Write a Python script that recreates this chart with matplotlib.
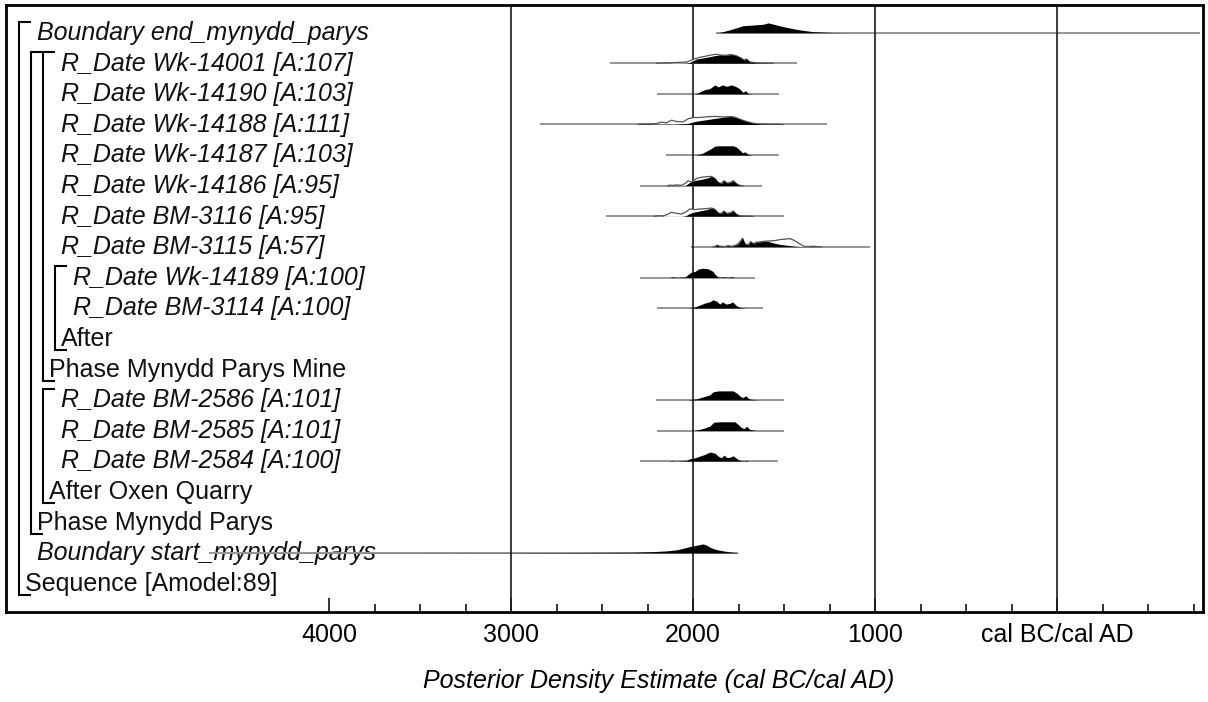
import matplotlib
matplotlib.use("Agg")
import matplotlib.pyplot as plt
import matplotlib.transforms as mtransforms
import numpy as np

plt.rcParams['font.family'] = ['Liberation Sans', 'DejaVu Sans']

# row labels (top to bottom) and nesting depth in the OxCal model
labels = [
    "Boundary end_mynydd_parys",
    "R_Date Wk-14001 [A:107]",
    "R_Date Wk-14190 [A:103]",
    "R_Date Wk-14188 [A:111]",
    "R_Date Wk-14187 [A:103]",
    "R_Date Wk-14186 [A:95]",
    "R_Date BM-3116 [A:95]",
    "R_Date BM-3115 [A:57]",
    "R_Date Wk-14189 [A:100]",
    "R_Date BM-3114 [A:100]",
    "After",
    "Phase Mynydd Parys Mine",
    "R_Date BM-2586 [A:101]",
    "R_Date BM-2585 [A:101]",
    "R_Date BM-2584 [A:100]",
    "After Oxen Quarry",
    "Phase Mynydd Parys",
    "Boundary start_mynydd_parys",
    "Sequence [Amodel:89]",
]
depth = [1, 3, 3, 3, 3, 3, 3, 3, 4, 4, 3, 2, 3, 3, 3, 2, 1, 1, 0]
# groups: (first child row, own label row, depth)
groups = [(0, 18, 0), (1, 16, 1), (1, 11, 2), (8, 10, 3), (12, 15, 2)]

# ranges of the grey lines, years BC (negative = AD)
ranges = {
    0: (1875, -786), 1: (2458, 1431), 2: (2197, 1527), 3: (2843, 1266),
    4: (2146, 1527), 5: (2293, 1620), 6: (2480, 1501), 7: (2009, 1025),
    8: (2293, 1660), 9: (2197, 1618), 12: (2201, 1501), 13: (2197, 1501),
    14: (2289, 1532), 17: (4657, 1752),
}

# posterior distributions: years BC and relative density
post_years = {
    0: [1875, 1853, 1807, 1761, 1725, 1670, 1615, 1587, 1541, 1486, 1413, 1340, 1230, 1120],
    1: [2190, 2140, 2100, 2036, 2018, 1981, 1926, 1880, 1853, 1825, 1789, 1761, 1734, 1721,
        1706, 1688, 1651, 1615, 1560],
    2: [1990, 1981, 1963, 1935, 1908, 1880, 1862, 1838, 1816, 1789, 1761, 1743, 1725, 1712,
        1697, 1670],
    3: [2300, 2293, 2200, 2100, 2036, 2018, 2000, 1981, 1963, 1945, 1926, 1908, 1890, 1871,
        1853, 1834, 1810, 1789, 1761, 1734, 1706, 1670, 1633, 1560, 1505],
    4: [1990, 1981, 1954, 1926, 1899, 1880, 1853, 1816, 1780, 1761, 1743, 1728, 1715, 1697, 1670],
    5: [2140, 2128, 2110, 2091, 2064, 2045, 2036, 2018, 1990, 1954, 1917, 1899, 1880, 1862,
        1844, 1831, 1813, 1794, 1780, 1761, 1747, 1725],
    6: [2210, 2201, 2190, 2064, 2045, 2036, 2027, 2000, 1963, 1926, 1899, 1880, 1862, 1844,
        1831, 1816, 1794, 1780, 1761, 1743, 1706, 1670],
    7: [1890, 1880, 1868, 1853, 1825, 1807, 1789, 1770, 1752, 1728, 1715, 1697, 1684, 1670,
        1651, 1633, 1605, 1587, 1550, 1514, 1486, 1450, 1413, 1376, 1340, 1312, 1294],
    8: [2130, 2119, 2110, 2100, 2091, 2045, 2027, 2009, 1990, 1972, 1945, 1917, 1890, 1880,
        1862, 1845, 1834, 1816, 1800, 1789, 1770],
    9: [2030, 2018, 2000, 1963, 1935, 1908, 1890, 1871, 1853, 1838, 1820, 1798, 1783, 1765,
        1747, 1725, 1706],
    12: [2030, 2018, 1981, 1945, 1908, 1890, 1862, 1816, 1780, 1761, 1743, 1728, 1710, 1691,
         1660, 1633],
    13: [1995, 1981, 1945, 1908, 1886, 1853, 1816, 1770, 1752, 1734, 1719, 1706, 1688, 1651],
    14: [2130, 2119, 2105, 2091, 2036, 2018, 1990, 1963, 1935, 1908, 1880, 1862, 1844, 1831,
         1813, 1794, 1780, 1761, 1743, 1720, 1706, 1695],
    17: [4600, 3500, 3000, 2700, 2513, 2330, 2219, 2146, 2091, 2045, 2018, 1990, 1963, 1945,
         1926, 1899, 1871, 1834, 1798, 1761, 1752],
}
post_dens = {
    0: [0, 0.03, 0.24, 0.49, 0.70, 0.77, 0.84, 0.98, 0.77, 0.53, 0.28, 0.1, 0.02, 0],
    1: [0, 0.03, 0.02, 0.04, 0.1, 0.43, 0.6, 0.77, 0.83, 0.8, 0.87, 0.75, 0.5, 0.33,
        0.43, 0.13, 0.05, 0.02, 0],
    2: [0, 0.05, 0.2, 0.43, 0.53, 0.9, 0.7, 0.9, 0.75, 0.9, 0.7, 0.5, 0.15, 0.33, 0.05, 0],
    3: [0, 0.03, 0.05, 0.05, 0.1, 0.15, 0.25, 0.33, 0.38, 0.43, 0.48, 0.53, 0.58, 0.63,
        0.68, 0.73, 0.77, 0.8, 0.67, 0.47, 0.3, 0.13, 0.05, 0.02, 0],
    4: [0, 0.03, 0.13, 0.4, 0.67, 0.9, 0.93, 0.93, 0.93, 0.8, 0.5, 0.23, 0.33, 0.07, 0],
    5: [0, 0.03, 0.02, 0.03, 0.0, 0.03, 0.1, 0.33, 0.53, 0.63, 0.8, 0.93, 0.73, 0.33,
        0.23, 0.5, 0.27, 0.33, 0.5, 0.2, 0.05, 0],
    6: [0, 0.03, 0, 0, 0.05, 0.1, 0.2, 0.4, 0.53, 0.67, 0.83, 0.7, 0.33, 0.3,
        0.53, 0.3, 0.37, 0.53, 0.2, 0.05, 0.02, 0],
    7: [0, 0.05, 0.17, 0.07, 0.03, 0.13, 0.05, 0.15, 0.3, 0.87, 0.3, 0.2, 0.53, 0.33,
        0.47, 0.5, 0.57, 0.55, 0.35, 0.23, 0.17, 0.1, 0.05, 0.02, 0.05, 0.02, 0],
    8: [0, 0.05, 0.07, 0.03, 0.02, 0.05, 0.3, 0.53, 0.6, 0.83, 0.93, 0.87, 0.6, 0.33,
        0.05, 0.03, 0.07, 0.03, 0.03, 0.08, 0],
    9: [0, 0.02, 0.05, 0.3, 0.5, 0.63, 0.83, 0.7, 0.4, 0.63, 0.4, 0.47, 0.63, 0.3,
        0.1, 0.03, 0],
    12: [0, 0.03, 0.1, 0.3, 0.5, 0.8, 0.9, 0.9, 0.9, 0.7, 0.4, 0.23, 0.4, 0.1, 0.03, 0],
    13: [0, 0.05, 0.2, 0.43, 0.83, 0.87, 0.87, 0.87, 0.6, 0.3, 0.2, 0.43, 0.1, 0],
    14: [0, 0.05, 0.02, 0.01, 0.07, 0.23, 0.33, 0.5, 0.67, 0.9, 0.8, 0.5, 0.33, 0.6,
         0.35, 0.4, 0.53, 0.27, 0.07, 0.02, 0.07, 0],
    17: [0, 0.01, 0.02, 0.04, 0.05, 0.07, 0.13, 0.2, 0.3, 0.5, 0.63, 0.73, 0.83, 0.9,
         0.77, 0.5, 0.33, 0.2, 0.1, 0.03, 0],
}

# unmodelled likelihoods (only where they show above the posterior)
like_years = {
    1: [2200, 2150, 2110, 2064, 2036, 2018, 2000, 1963, 1926, 1890, 1871, 1853, 1825, 1789,
        1761, 1734, 1721, 1706, 1688, 1651, 1615, 1560],
    3: [2300, 2293, 2230, 2201, 2174, 2146, 2119, 2091, 2054, 2027, 2000, 1963, 1926, 1890,
        1862, 1834, 1810, 1789, 1761, 1734, 1706, 1670, 1633, 1560, 1505],
    5: [2140, 2128, 2110, 2091, 2064, 2045, 2027, 2009, 1981, 1945, 1908, 1899, 1880, 1862,
        1844, 1831, 1813, 1794, 1780, 1761, 1747, 1725],
    6: [2210, 2201, 2164, 2137, 2119, 2091, 2064, 2036, 2018, 1990, 1963, 1926, 1899, 1880,
        1862, 1844, 1831, 1816, 1794, 1780, 1761, 1743, 1706, 1670],
    7: [1890, 1880, 1868, 1853, 1825, 1807, 1789, 1770, 1752, 1728, 1715, 1697, 1684, 1670,
        1651, 1633, 1605, 1578, 1550, 1523, 1495, 1468, 1450, 1422, 1395, 1376, 1340, 1312, 1294],
}
like_dens = {
    1: [0, 0.05, 0.07, 0.1, 0.13, 0.25, 0.4, 0.6, 0.73, 0.87, 0.9, 0.83, 0.8, 0.87,
        0.75, 0.5, 0.33, 0.43, 0.13, 0.05, 0.02, 0],
    3: [0, 0.03, 0.05, 0.1, 0.23, 0.17, 0.43, 0.3, 0.27, 0.57, 0.7, 0.7, 0.77, 0.8,
        0.8, 0.75, 0.77, 0.8, 0.67, 0.47, 0.3, 0.13, 0.05, 0.02, 0],
    5: [0, 0.05, 0.03, 0.08, 0.03, 0.2, 0.5, 0.33, 0.73, 0.87, 0.93, 0.93, 0.73, 0.33,
        0.23, 0.5, 0.27, 0.33, 0.5, 0.2, 0.05, 0],
    6: [0, 0.05, 0.03, 0.23, 0.4, 0.3, 0.23, 0.47, 0.73, 0.67, 0.73, 0.77, 0.83, 0.7,
        0.33, 0.3, 0.53, 0.3, 0.37, 0.53, 0.2, 0.05, 0.02, 0],
    7: [0, 0.05, 0.17, 0.07, 0.03, 0.13, 0.05, 0.15, 0.3, 0.87, 0.3, 0.2, 0.53, 0.33,
        0.47, 0.5, 0.57, 0.6, 0.63, 0.73, 0.77, 0.83, 0.7, 0.4, 0.1, 0.03, 0.07, 0.03, 0],
}

major_ticks = [4000, 3000, 2000, 1000, 0]
major_labels = ["4000", "3000", "2000", "1000", "cal BC/cal AD"]
grid_years = [3000, 2000, 1000, 0]

W, H = 1208, 702
fig = plt.figure(figsize=(W / 100, H / 100), dpi=100)
ax = fig.add_axes([6 / W, 1 - 612 / H, 1197 / W, 607 / H])

row_px = 30.6
scale = 10 / row_px  # density 1.0 -> 10 px
fs = 18

for r, (a, b) in ranges.items():
    ax.plot([-a, -b], [r, r], color='#959595', lw=1.4, zorder=2, solid_capstyle='butt')

for r in like_years:
    x = -np.array(like_years[r])
    y = r - np.array(like_dens[r]) * scale
    ax.fill_between(x, r, y, color='white', lw=0, zorder=3)
    ax.plot(x, y, color='#555555', lw=0.9, zorder=3.2)

for r in post_years:
    x = -np.array(post_years[r])
    y = r - np.array(post_dens[r]) * scale
    ax.fill_between(x, r, y, color='black', lw=0, zorder=4)

for g in grid_years:
    ax.axvline(-g, color='#1a1a1a', lw=1.2, zorder=2.5)

ax.set_xlim(-5775, 802)
ax.set_ylim((612 - 32.7) / row_px, -(32.7 - 5) / row_px)

# labels and brackets (left margin, pixel based)
blend = mtransforms.blended_transform_factory(ax.transAxes, ax.transData)
def fx(px):
    return (px - 6) / 1197

for i, lab in enumerate(labels):
    ital = lab.startswith("R_Date") or lab.startswith("Boundary")
    ax.text(fx(25 + 12 * depth[i]), i + 0.24, lab, transform=blend, fontsize=fs,
            style='italic' if ital else 'normal', va='baseline', ha='left',
            color='#111111', zorder=1)

for first, last, d in groups:
    bx = 19 + 12 * d
    top = first - 0.36
    bot = last + 0.38
    ax.plot([fx(bx + 11), fx(bx), fx(bx), fx(bx + 11)], [top, top, bot, bot],
            transform=blend, color='black', lw=1.5, clip_on=False, zorder=5,
            solid_joinstyle='miter')

ax.set_yticks([])
ax.set_xticks([-t for t in major_ticks])
ax.set_xticklabels(major_labels, fontsize=fs)
ax.set_xticks([-t for t in np.arange(-750, 3751, 250) if t % 1000 != 0], minor=True)
ax.tick_params(axis='x', which='major', direction='in', length=10, width=1.1, pad=8)
ax.tick_params(axis='x', which='minor', direction='in', length=5.5, width=1.1)
for s in ax.spines.values():
    s.set_linewidth(2)

fig.text(659 / W, 1 - 681 / H, "Posterior Density Estimate (cal BC/cal AD)",
         fontsize=fs, style='italic', ha='center', va='center')

fig.savefig("out.png", dpi=100)
